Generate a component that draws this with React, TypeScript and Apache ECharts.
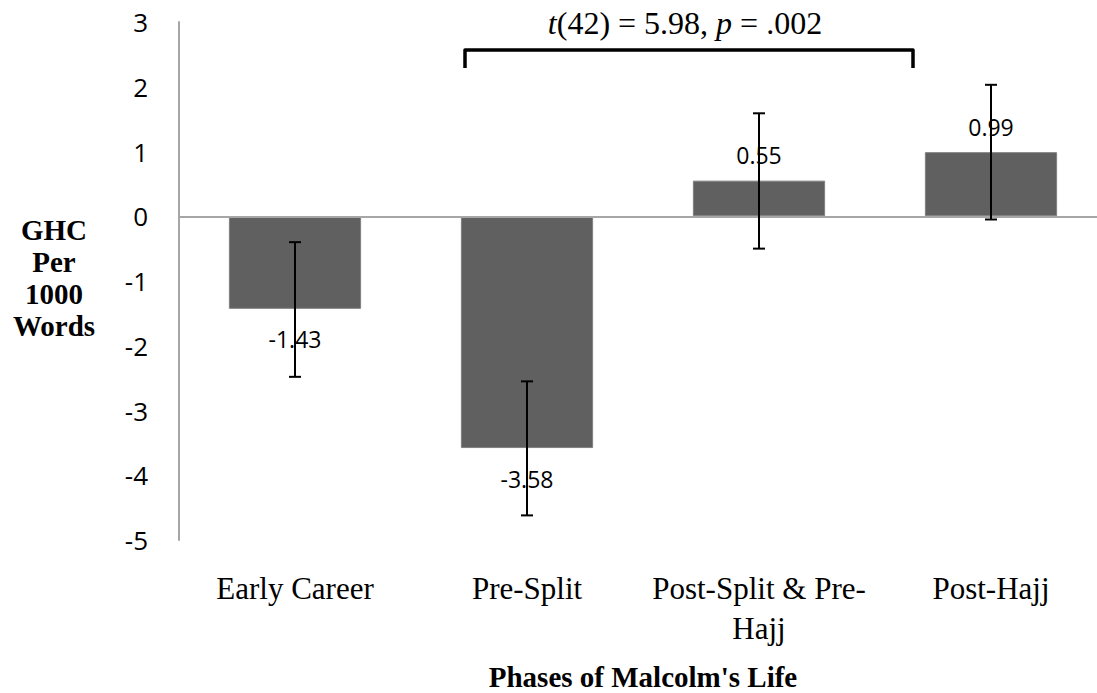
import React, { useEffect, useRef } from "react";
import * as echarts from "echarts";

const categories = ["Early Career", "Pre-Split", "Post-Split & Pre-Hajj", "Post-Hajj"];
const means = [-1.43, -3.58, 0.55, 0.99];
const errHigh = [-0.4, -2.55, 1.59, 2.03];
const errLow = [-2.48, -4.62, -0.5, -0.05];
const yMin = -5;
const yMax = 3;
const yStep = 1;
const statText = "{i|t}(42) = 5.98, {i|p} = .002";
const yTitle = "GHC\nPer\n1000\nWords";
const xTitle = "Phases of Malcolm's Life";

const SANS = "'Open Sans', 'Noto Sans', sans-serif";
const SERIF = "'Liberation Serif', 'Times New Roman', serif";

export default function App() {
  const ref = useRef<HTMLDivElement>(null);
  useEffect(() => {
    if (!ref.current) return;
    const chart = echarts.init(ref.current, null, { renderer: "svg" });
    const barData = means.map((v) => ({
      value: v,
      label: { distance: v < 0 ? 19 : 14 },
    }));
    const errData = categories.map((_, i) => [i, errHigh[i], errLow[i]]);
    chart.setOption({
      animation: false,
      backgroundColor: "#ffffff",
      grid: { left: 179, right: -10, top: 22, bottom: 153, containLabel: false, outerBoundsMode: "none" },
      xAxis: {
        type: "category",
        data: categories,
        axisLine: { show: false, onZero: false },
        axisTick: { show: false },
        splitLine: { show: false },
        axisLabel: {
          interval: 0,
          margin: 28,
          fontFamily: SERIF,
          fontSize: 31,
          lineHeight: 40,
          color: "#000",
          formatter: (v: string) => (v === "Post-Split & Pre-Hajj" ? "Post-Split & Pre-\nHajj" : v),
        },
        name: xTitle,
        nameLocation: "middle",
        nameGap: 137,
        nameTextStyle: {
          fontFamily: SERIF,
          fontSize: 29,
          fontWeight: "bold",
          color: "#000",
          verticalAlign: "middle",
        },
      },
      yAxis: {
        type: "value",
        min: yMin,
        max: yMax,
        interval: yStep,
        axisLine: { show: true, onZero: false, lineStyle: { color: "#a6a6a6", width: 2 } },
        axisTick: { show: false },
        splitLine: { show: false },
        axisLabel: { margin: 31, fontFamily: SANS, fontSize: 26, color: "#000" },
      },
      series: [
        {
          type: "bar",
          data: barData,
          barCategoryGap: "43%",
          itemStyle: { color: "#606060", borderColor: "#808080", borderWidth: 1 },
          label: {
            show: true,
            position: "outside",
            fontFamily: SANS,
            fontSize: 23,
            color: "#000",
            formatter: (p: any) => Number(p.value).toFixed(2),
          },
          markLine: {
            silent: true,
            symbol: "none",
            label: { show: false },
            lineStyle: { color: "#a6a6a6", width: 2, type: "solid" },
            data: [{ yAxis: 0 }],
          },
          z: 2,
        },
        {
          type: "custom",
          data: errData,
          encode: { x: 0, y: [1, 2] },
          z: 5,
          renderItem: (params: any, api: any) => {
            const x = api.value(0);
            const hi = api.coord([x, api.value(1)]);
            const lo = api.coord([x, api.value(2)]);
            const w = 6;
            const st = { stroke: "#000", lineWidth: 2 };
            return {
              type: "group",
              children: [
                { type: "line", shape: { x1: hi[0], y1: hi[1], x2: lo[0], y2: lo[1] }, style: st },
                { type: "line", shape: { x1: hi[0] - w, y1: hi[1], x2: hi[0] + w, y2: hi[1] }, style: st },
                { type: "line", shape: { x1: lo[0] - w, y1: lo[1], x2: lo[0] + w, y2: lo[1] }, style: st },
              ],
            };
          },
        },
      ],
      graphic: [
        {
          type: "polyline",
          shape: { points: [[465, 68], [465, 50], [913, 50], [913, 68]] },
          style: { stroke: "#000", lineWidth: 3.5, fill: "none", lineJoin: "round", lineCap: "butt" },
        },
        {
          type: "text",
          x: 685,
          y: 23,
          style: {
            text: statText,
            fontFamily: SERIF,
            fontSize: 32,
            fill: "#000",
            align: "center",
            verticalAlign: "middle",
            rich: {
              i: { fontFamily: SERIF, fontSize: 32, fontStyle: "italic", fill: "#000" },
            },
          },
        },
        {
          type: "text",
          x: 54,
          y: 278,
          style: {
            text: yTitle,
            fontFamily: SERIF,
            fontSize: 29,
            fontWeight: "bold",
            lineHeight: 32,
            fill: "#000",
            align: "center",
            verticalAlign: "middle",
          },
        },
      ],
    });
    return () => chart.dispose();
  }, []);
  return (
    <div
      ref={ref}
      style={{ position: "absolute", left: 0, top: 0, width: 1097, height: 693, background: "#fff" }}
    />
  );
}
